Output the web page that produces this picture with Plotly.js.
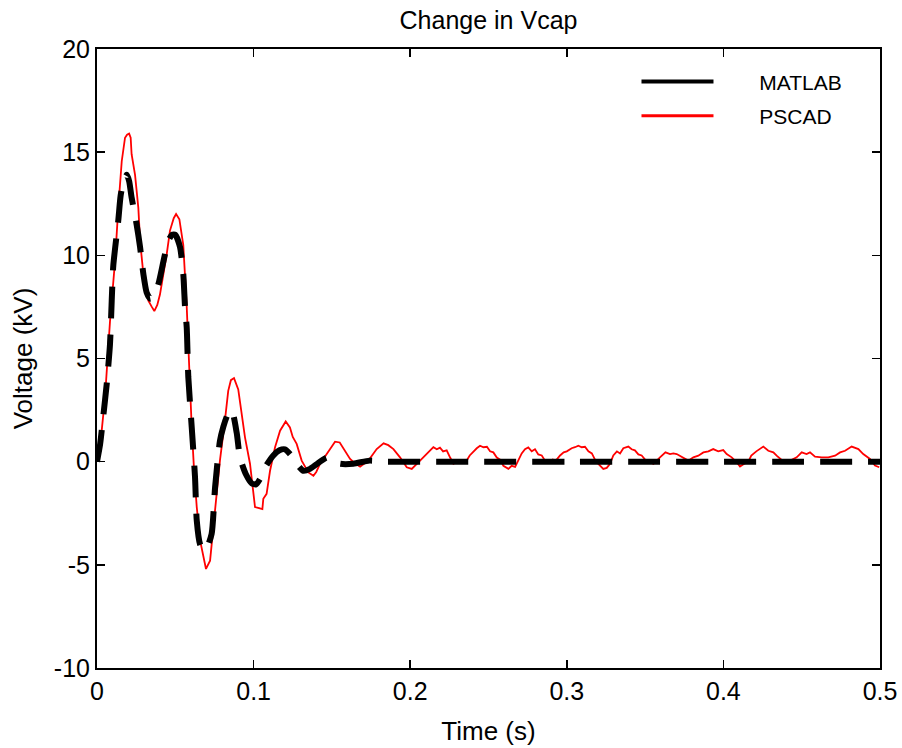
<!DOCTYPE html>
<html>
<head>
<meta charset="utf-8">
<script src="https://cdn.plot.ly/plotly-3.0.1.min.js"></script>
<style>html,body{margin:0;padding:0;background:#fff;}#chart{width:902px;height:748px;}</style>
</head>
<body>
<div id="chart"></div>
<script>
// MATLAB model response (kV) vs time (s)
const matlabT = [0,0.002,0.004,0.0062,0.0083,0.0094,0.0104,0.0136,0.0151,0.017,0.019,0.0205,0.0221,0.0253,0.0275,0.0296,0.0317,0.034,0.0365,0.0392,0.0424,0.0455,0.048,0.050,0.053,0.0551,0.0562,0.0573,0.0583,0.0605,0.0626,0.0637,0.0658,0.068,0.070,0.0732,0.0754,0.0785,0.0807,0.0835,0.086,0.0892,0.0913,0.095,0.0988,0.1015,0.104,0.108,0.1126,0.1165,0.120,0.124,0.1275,0.1317,0.136,0.1403,0.1467,0.150,0.155,0.1637,0.174,0.185,0.25,0.3,0.35,0.4,0.45,0.5];
const matlabV = [0,0.85,2.2,3.76,5.7,7.8,9.5,11.7,12.9,13.6,13.9,13.6,12.8,11.5,10.4,9.1,8.2,7.9,8.1,8.6,9.7,10.7,11.0,11.0,10.4,9.1,7.5,6.5,4.1,1.66,-0.76,-2.85,-4.0,-4.3,-4.2,-3.5,-1.24,1.0,1.7,2.3,2.5,1.4,0.2,-0.6,-1.05,-1.1,-0.85,-0.2,0.3,0.55,0.6,0.3,-0.1,-0.44,-0.35,-0.12,0.2,0.1,-0.1,-0.1,0.05,0,0,0,0,0,0,0];

// PSCAD simulation (kV) vs time (s)
const pscadT = [0,0.0015,0.003,0.0051,0.0083,0.0115,0.0136,0.0158,0.0179,0.0192,0.0205,0.0215,0.0221,0.0243,0.0264,0.0275,0.0296,0.0328,0.035,0.0366,0.0385,0.0402,0.0445,0.0466,0.049,0.0505,0.0526,0.0551,0.0573,0.0583,0.0605,0.0619,0.0637,0.0658,0.069,0.0696,0.0722,0.0754,0.0785,0.0817,0.0838,0.0855,0.0875,0.0902,0.0913,0.0945,0.0977,0.0998,0.1009,0.1035,0.1056,0.1062,0.1083,0.1105,0.1137,0.1169,0.1205,0.1232,0.125,0.1275,0.1307,0.135,0.1382,0.140,0.1424,0.1467,0.152,0.155,0.1584,0.1616,0.165,0.168,0.1733,0.1786,0.183,0.186,0.1893,0.1935,0.1978,0.201,0.2063,0.2095,0.2127,0.2148,0.217,0.219,0.221,0.2233,0.2255,0.2276,0.230,0.2323,0.234,0.236,0.238,0.2404,0.2425,0.2446,0.2468,0.249,0.251,0.2531,0.2553,0.2574,0.2595,0.2627,0.2648,0.267,0.269,0.2712,0.2733,0.2754,0.2776,0.2797,0.2818,0.284,0.2861,0.289,0.291,0.293,0.2957,0.298,0.300,0.3031,0.3052,0.3074,0.3095,0.3116,0.3138,0.316,0.318,0.320,0.3233,0.3255,0.3276,0.3297,0.332,0.334,0.3361,0.3393,0.3414,0.3435,0.3457,0.3478,0.350,0.3553,0.3595,0.363,0.3659,0.368,0.3702,0.3734,0.3776,0.3808,0.384,0.3872,0.3904,0.3935,0.3967,0.3999,0.4021,0.4053,0.4085,0.4106,0.4138,0.4157,0.4178,0.421,0.4255,0.4287,0.4319,0.434,0.4372,0.4404,0.4436,0.4468,0.45,0.4531,0.4553,0.4585,0.4628,0.467,0.4713,0.4745,0.4777,0.4819,0.4862,0.4893,0.4936,0.4968,0.4995];
const pscadV = [0,0.5,1.5,3.1,6.8,9.7,12.3,14.56,15.7,15.85,15.9,15.7,14.9,13.9,12.3,10.7,9.1,7.8,7.5,7.3,7.6,8.1,10.05,11.2,11.8,12.0,11.75,10.5,7.5,5.4,1.66,-0.3,-2.2,-3.8,-5.1,-5.2,-4.8,-2.2,0.05,2.0,3.43,3.95,4.05,3.5,2.95,1.18,-0.1,-1.4,-2.2,-2.25,-2.3,-1.8,-1.56,-0.44,0.7,1.5,1.95,1.66,1.2,0.86,0.05,-0.52,-0.68,-0.5,-0.11,0.37,0.97,0.93,0.53,0.13,-0.1,-0.24,0.05,0.61,0.89,0.8,0.61,0.21,-0.27,-0.35,0.05,0.3,0.55,0.7,0.6,0.68,0.5,0.55,0.2,-0.1,0.0,-0.05,0.0,0.05,0.3,0.5,0.65,0.77,0.7,0.72,0.5,0.45,0.2,0.1,-0.2,-0.35,-0.2,-0.25,0.1,0.4,0.6,0.69,0.5,0.6,0.35,0.3,0.05,-0.03,0.1,0.05,0.3,0.45,0.5,0.65,0.7,0.77,0.7,0.72,0.5,0.4,0.1,-0.1,-0.35,-0.3,-0.1,0.3,0.5,0.4,0.65,0.73,0.6,0.55,0.35,0.3,0.1,-0.11,0.21,0.45,0.37,0.40,0.37,0.24,0.05,0.21,0.29,0.45,0.50,0.61,0.50,0.56,0.37,0.21,-0.03,-0.24,-0.08,-0.03,0.29,0.50,0.73,0.53,0.45,0.29,0.08,-0.03,0.08,0.21,0.45,0.37,0.45,0.24,0.21,0.21,0.29,0.45,0.53,0.73,0.61,0.37,0.13,-0.19,-0.27];

const seriesNames = ['MATLAB', 'PSCAD'];
const xTicks = [0, 0.1, 0.2, 0.3, 0.4, 0.5];
const xTickText = ['0', '0.1', '0.2', '0.3', '0.4', '0.5'];
const yTicks = [-10, -5, 0, 5, 10, 15, 20];
const yTickText = ['-10', '-5', '0', '5', '10', '15', '20'];

const FONT = 'Liberation Sans, Arial, sans-serif';
const pad = '\u00a0\u00a0\u00a0\u00a0\u00a0\u00a0\u00a0';

const traces = [
  {x: pscadT, y: pscadV, mode: 'lines', type: 'scatter', showlegend: false,
   line: {color: '#ff0000', width: 1.8}, hoverinfo: 'skip'},
  {x: matlabT, y: matlabV, mode: 'lines', type: 'scatter', showlegend: false,
   line: {color: '#000000', width: 6, dash: '32px,16px', shape: 'spline', smoothing: 0.6}, hoverinfo: 'skip'},
  {x: [null], y: [null], mode: 'lines', type: 'scatter', name: pad + seriesNames[0], legendgroup: 'a',
   line: {color: '#000000', width: 4}},
  {x: [null], y: [null], mode: 'lines', type: 'scatter', name: pad + seriesNames[1], legendgroup: 'b',
   line: {color: '#ff0000', width: 3}}
];

const axisCommon = {
  showline: true, linecolor: '#000', linewidth: 2, mirror: 'allticks',
  ticks: 'inside', ticklen: 8, tickwidth: 1.5, tickcolor: '#000',
  showgrid: false, zeroline: false,
  tickfont: {family: FONT, size: 25, color: '#000'}
};

const layout = {
  width: 902, height: 748,
  paper_bgcolor: '#fff', plot_bgcolor: '#fff',
  margin: {l: 97, r: 22, t: 49, b: 80},
  title: {text: 'Change in Vcap', font: {family: FONT, size: 25, color: '#000'},
          x: 0.5, xref: 'paper', y: 0.973, yref: 'container', yanchor: 'middle'},
  xaxis: Object.assign({}, axisCommon, {
    range: [0, 0.5], tickvals: xTicks, ticktext: xTickText,
    title: {text: 'Time (s)', font: {family: FONT, size: 26, color: '#000'}, standoff: 18}
  }),
  yaxis: Object.assign({}, axisCommon, {
    range: [-10, 20], tickvals: yTicks, ticktext: yTickText,
    title: {text: 'Voltage (kV)', font: {family: FONT, size: 26, color: '#000'}, standoff: 14}
  }),
  legend: {x: 0.689, y: 0.980, xanchor: 'left', yanchor: 'top', bgcolor: 'rgba(0,0,0,0)',
           borderwidth: 0, itemwidth: 72, tracegroupgap: 4,
           font: {family: FONT, size: 21, color: '#000'}},
  showlegend: true
};

Plotly.newPlot('chart', traces, layout, {staticPlot: true, displayModeBar: false});
</script>
</body>
</html>
